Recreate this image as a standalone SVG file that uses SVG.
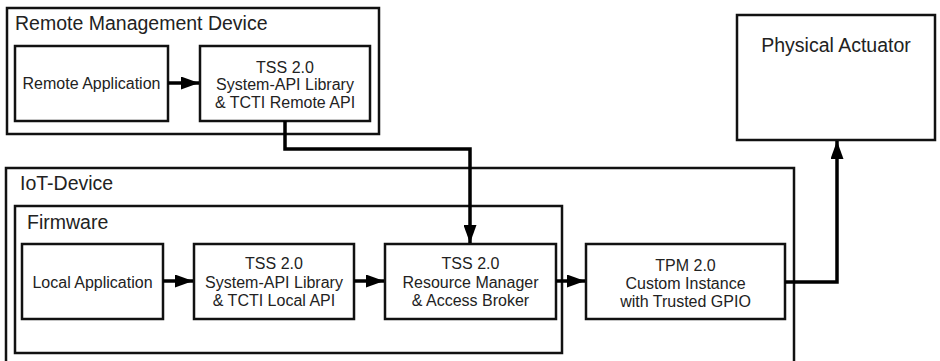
<svg xmlns="http://www.w3.org/2000/svg" width="940" height="361" viewBox="0 0 940 361">
<style>
.box{fill:#fff;stroke:#111;stroke-width:2.5}
.grp{fill:none;stroke:#111;stroke-width:2.5}
.t{font-family:"Liberation Sans",Arial,sans-serif;font-size:16px;fill:#222;text-anchor:middle}
.h{font-family:"Liberation Sans",Arial,sans-serif;font-size:19.5px;fill:#222}
.c{fill:none;stroke:#000;stroke-width:3.5}
</style>
<defs>
<marker id="ah" viewBox="0 0 18 13" refX="18" refY="6.5" markerWidth="18" markerHeight="13" markerUnits="userSpaceOnUse" orient="auto">
<path d="M0,0 L18,6.5 L0,13 Z" fill="#000"/>
</marker>
</defs>
<rect width="940" height="361" fill="#fff"/>
<g id="remote-device">
<rect class="grp" x="7" y="8" width="372" height="126"/>
<text class="h" x="15" y="30">Remote Management Device</text>
</g>
<g id="iot-device">
<rect class="grp" x="6" y="168" width="788" height="200"/>
<text class="h" x="20" y="190">IoT-Device</text>
</g>
<g id="firmware">
<rect class="grp" x="15" y="206" width="547" height="147"/>
<text class="h" x="27" y="229">Firmware</text>
</g>
<g id="remote-app">
<rect class="box" x="15" y="46" width="153" height="75"/>
<text class="t" x="91.5" y="89">Remote Application</text>
</g>
<g id="tss-remote">
<rect class="box" x="200" y="46" width="170" height="75"/>
<text class="t" x="285" y="73">TSS 2.0</text>
<text class="t" x="285" y="90">System-API Library</text>
<text class="t" x="285" y="108">&amp; TCTI Remote API</text>
</g>
<g id="physical-actuator">
<rect class="box" x="737" y="15" width="198" height="125"/>
<text class="h" x="836" y="52" text-anchor="middle">Physical Actuator</text>
</g>
<g id="local-app">
<rect class="box" x="22" y="244" width="141" height="75"/>
<text class="t" x="92.5" y="288">Local Application</text>
</g>
<g id="tss-local">
<rect class="box" x="194" y="244" width="160" height="75"/>
<text class="t" x="274" y="269">TSS 2.0</text>
<text class="t" x="274" y="288">System-API Library</text>
<text class="t" x="274" y="306">&amp; TCTI Local API</text>
</g>
<g id="resource-manager">
<rect class="box" x="385" y="244" width="171" height="75"/>
<text class="t" x="470.5" y="269">TSS 2.0</text>
<text class="t" x="470.5" y="288">Resource Manager</text>
<text class="t" x="470.5" y="306">&amp; Access Broker</text>
</g>
<g id="tpm">
<rect class="box" x="586" y="244" width="199" height="75"/>
<text class="t" x="685.5" y="271">TPM 2.0</text>
<text class="t" x="685.5" y="289">Custom Instance</text>
<text class="t" x="685.5" y="307">with Trusted GPIO</text>
</g>
<g id="connectors">
<path class="c" d="M168,83 H199" marker-end="url(#ah)"/>
<path class="c" d="M285,121 V149 H470 V243" marker-end="url(#ah)"/>
<path class="c" d="M163,281 H193" marker-end="url(#ah)"/>
<path class="c" d="M354,281 H384" marker-end="url(#ah)"/>
<path class="c" d="M556,281 H585" marker-end="url(#ah)"/>
<path class="c" d="M785,282 H837 V141" marker-end="url(#ah)"/>
</g>
</svg>
